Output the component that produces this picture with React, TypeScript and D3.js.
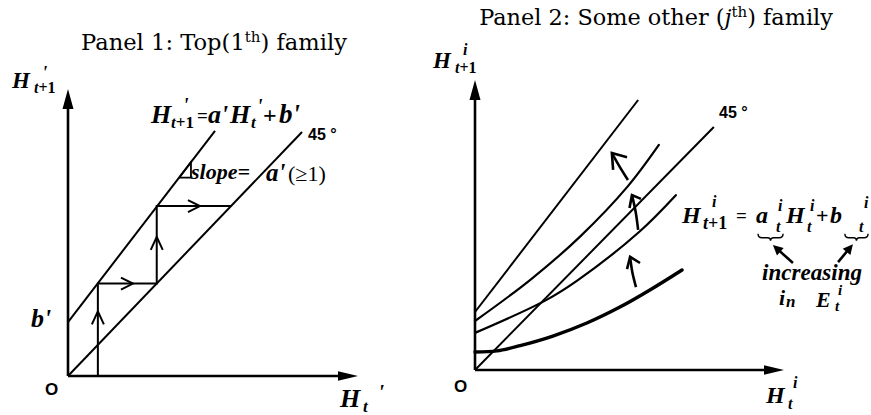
import React from "react";
import * as d3 from "d3";

const W = 871;
const H = 415;
const serif = "Liberation Serif, Times New Roman, serif";
const titleFont = "DejaVu Serif, serif";
const sans = "Liberation Sans, Arial, sans-serif";

// ---- panel 1 (top family), both axes in 0..100 units ----
const p1Upper = [[0, 18.8], [50.7, 85.4]];
const p1Diag = [[0, 0], [80.7, 85.0]];
const p1Steps = [[10.3, 0], [10.3, 32.2], [30.6, 32.2], [30.6, 59.2], [56.3, 59.2]];
const p1StepArrows = [
  { x: 10.3, y: 22.5, dir: "up" },
  { x: 22.4, y: 32.2, dir: "right" },
  { x: 30.6, y: 48.5, dir: "up" },
  { x: 45.5, y: 59.2, dir: "right" },
];
const p1SlopeTri = [[38.3, 69.1], [42.4, 69.1], [42.4, 74.5], [38.3, 69.1]];

// ---- panel 2 (some other family) ----
const p2Top = [[0, 20.0], [52.8, 93.1]];
const p2Diag = [[0, 0], [77.3, 83.8]];
const p2Curve2 = [[0, 16.9], [17.8, 31.0], [34.0, 46.0], [49.5, 63.4], [59.5, 77.6]];
const p2Curve3 = [[0, 12.8], [23.0, 24.1], [33.3, 31.0], [53.1, 47.6], [65.0, 60.3]];
const p2Curve4 = [[0, 6.2], [7.1, 6.6], [14.6, 8.4], [25.2, 11.7], [36.2, 16.2], [46.9, 21.7], [56.6, 27.6], [67.0, 34.5]];
const p2Curves = [
  { pts: p2Curve2, w: 2.2 },
  { pts: p2Curve3, w: 2.2 },
  { pts: p2Curve4, w: 3.4 },
];
// curved shift arrows: stem [end, mid, tip], head [armA, tip, armB]
const p2ShiftArrows = [
  { stem: [[49.5, 65.5], [46.6, 70.5], [44.3, 74.8]], head: [[49.2, 73.4], [44.3, 74.8], [44.7, 69.0]] },
  { stem: [[52.8, 48.3], [52.0, 54.5], [50.8, 60.3]], head: [[53.7, 59.0], [50.8, 60.3], [50.0, 55.9]] },
  { stem: [[52.1, 28.6], [50.9, 33.8], [50.2, 39.0]], head: [[53.4, 36.9], [50.2, 39.0], [49.2, 34.8]] },
];
// pointers from "increasing" to the braces
const p2Pointers = [
  { from: [102.9, 36.9], to: [96.4, 43.1] },
  { from: [117.5, 37.2], to: [122.3, 43.4] },
];
const p2Braces = [[91.6, 99.7], [119.7, 127.2]];
const p2BraceY = 47.0;

const x1 = d3.scaleLinear().domain([0, 100]).range([68, 358]);
const y1 = d3.scaleLinear().domain([0, 100]).range([376, 89]);
const x2 = d3.scaleLinear().domain([0, 100]).range([475, 784]);
const y2 = d3.scaleLinear().domain([0, 100]).range([370, 80]);

const mkLine = (xs, ys, curve = d3.curveLinear) =>
  d3.line<number[]>().x((d) => xs(d[0])).y((d) => ys(d[1])).curve(curve);

function head(tx, ty, fx, fy, L, hw) {
  const dx = tx - fx, dy = ty - fy;
  const n = Math.hypot(dx, dy);
  const ux = dx / n, uy = dy / n;
  const bx = tx - ux * L, by = ty - uy * L;
  return `M${tx},${ty}L${bx - uy * hw},${by + ux * hw}L${bx + uy * hw},${by - ux * hw}Z`;
}

const T = ({ x, y, s, children, bold = true, it = true, fam = serif, ...rest }: any) => (
  <text x={x} y={y} fill="#000" {...rest}
    style={{ fontFamily: fam, fontSize: s, fontWeight: bold ? 700 : 400, fontStyle: it ? "italic" : "normal" }}>
    {children}
  </text>
);

function Axes({ xs, ys, hy, hx }) {
  const ox = xs(0), oy = ys(0), ty = ys(100), tx = xs(100);
  return (
    <g>
      <line x1={ox} y1={oy} x2={ox} y2={ty + hy} stroke="#000" strokeWidth={2.6} />
      <line x1={ox} y1={oy} x2={tx - hx} y2={oy} stroke="#000" strokeWidth={2.6} />
      <path d={head(ox, ty, ox, oy, hy + 2, 5.5)} fill="#000" />
      <path d={head(tx, oy, ox, oy, hx + 2, 4.8)} fill="#000" />
    </g>
  );
}

function Panel1() {
  const l = mkLine(x1, y1);
  return (
    <g>
      <T x={214} y={50} s={22.6} bold={false} it={false} fam={titleFont} textAnchor="middle">
        Panel 1: Top(1<tspan style={{ fontSize: 15 }} dy={-8}>th</tspan><tspan dy={8}>) family</tspan>
      </T>
      <Axes xs={x1} ys={y1} hy={18} hx={18} />
      <path d={l(p1Upper)} stroke="#000" strokeWidth={2} fill="none" />
      <path d={l(p1Diag)} stroke="#000" strokeWidth={2} fill="none" />
      <path d={l(p1Steps)} stroke="#000" strokeWidth={2} fill="none" />
      <path d={l(p1SlopeTri)} stroke="#000" strokeWidth={1.8} fill="none" />
      {p1StepArrows.map((a, i) => {
        const px = x1(a.x), py = y1(a.y);
        const pts = a.dir === "up"
          ? [[px - 6, py + 13], [px, py], [px + 6, py + 13]]
          : [[px - 12, py - 6], [px, py], [px - 12, py + 6]];
        return <polyline key={i} points={pts.map((p) => p.join(",")).join(" ")} stroke="#000" strokeWidth={2} fill="none" />;
      })}

      {/* y label */}
      <T x={12} y={88} s={23}>H</T>
      <T x={34} y={93} s={16}>t<tspan style={{ fontStyle: "normal" }}>+1</tspan></T>
      <T x={42} y={79} s={19}>'</T>
      {/* x label */}
      <T x={340} y={407} s={26}>H</T>
      <T x={363} y={412} s={17}>t</T>
      <T x={378} y={399} s={22}>'</T>
      <T x={45} y={395} s={17} fam={sans} it={false}>O</T>
      <T x={31} y={327} s={26}>b'</T>
      <T x={308} y={140} s={16} fam={sans} it={false}>45 °</T>

      {/* equation */}
      <T x={151} y={123} s={26}>H</T>
      <T x={171} y={128} s={17}>t<tspan style={{ fontStyle: "normal" }}>+1</tspan></T>
      <T x={183} y={112} s={20}>'</T>
      <T x={197} y={122} s={19} it={false}>=</T>
      <T x={208} y={123} s={26}>a'</T>
      <T x={230} y={123} s={26}>H</T>
      <T x={251} y={128} s={17}>t</T>
      <T x={257} y={113} s={20}>'</T>
      <T x={263} y={123} s={24} it={false}>+</T>
      <T x={279} y={123} s={27}>b'</T>

      <T x={191} y={179} s={22}>slope=</T>
      <T x={266} y={181} s={25}>a'</T>
      <T x={288} y={181} s={22} it={false} bold={false}>(≥1)</T>
    </g>
  );
}

function Panel2() {
  const l = mkLine(x2, y2);
  const c = mkLine(x2, y2, d3.curveCatmullRom);
  const n = mkLine(x2, y2, d3.curveNatural);
  return (
    <g>
      <T x={656} y={25} s={22.4} bold={false} it={false} fam={titleFont} textAnchor="middle">
        Panel 2: Some other (<tspan style={{ fontStyle: "italic" }}>j</tspan><tspan style={{ fontSize: 15 }} dy={-8}>th</tspan><tspan dy={8}>) family</tspan>
      </T>
      <Axes xs={x2} ys={y2} hy={18} hx={18} />
      <path d={l(p2Top)} stroke="#000" strokeWidth={2} fill="none" />
      <path d={l(p2Diag)} stroke="#000" strokeWidth={2} fill="none" />
      {p2Curves.map((cv, i) => (
        <path key={i} d={c(cv.pts)} stroke="#000" strokeWidth={cv.w} fill="none" strokeLinecap="round" />
      ))}
      {p2ShiftArrows.map((a, i) => (
        <g key={i}>
          <path d={n(a.stem)} stroke="#000" strokeWidth={2.6} fill="none" />
          <path d={l(a.head)} stroke="#000" strokeWidth={2.6} fill="none" />
        </g>
      ))}
      {p2Pointers.map((p, i) => {
        const fx = x2(p.from[0]), fy = y2(p.from[1]), tx = x2(p.to[0]), ty = y2(p.to[1]);
        return (
          <g key={i}>
            <line x1={fx} y1={fy} x2={tx + (fx - tx) * 0.3} y2={ty + (fy - ty) * 0.3} stroke="#000" strokeWidth={2.6} />
            <path d={head(tx, ty, fx, fy, 10, 5)} fill="#000" />
          </g>
        );
      })}
      {p2Braces.map((b, i) => {
        const a = x2(b[0]), e = x2(b[1]), y = y2(p2BraceY), m = (a + e) / 2;
        return (
          <path key={i} fill="none" stroke="#000" strokeWidth={1.4}
            d={`M${a},${y}Q${a},${y + 4} ${a + 4},${y + 4}L${m - 3},${y + 4}Q${m},${y + 4} ${m},${y + 7}Q${m},${y + 4} ${m + 3},${y + 4}L${e - 4},${y + 4}Q${e},${y + 4} ${e},${y}`} />
        );
      })}

      {/* y label */}
      <T x={433} y={68} s={23}>H</T>
      <T x={463} y={55} s={16}>i</T>
      <T x={455} y={73} s={16}>t<tspan style={{ fontStyle: "normal" }}>+1</tspan></T>
      {/* x label */}
      <T x={766} y={403} s={24}>H</T>
      <T x={793} y={388} s={16}>i</T>
      <T x={788} y={409} s={16}>t</T>
      <T x={454} y={392} s={17} fam={sans} it={false}>O</T>
      <T x={719} y={118} s={16} fam={sans} it={false}>45 °</T>

      {/* equation */}
      <T x={682} y={223} s={24}>H</T>
      <T x={712} y={207} s={16}>i</T>
      <T x={703} y={229} s={18}>t<tspan style={{ fontStyle: "normal" }}>+1</tspan></T>
      <T x={736} y={222} s={19} it={false}>=</T>
      <T x={756} y={223} s={24}>a</T>
      <T x={778} y={211} s={16}>i</T>
      <T x={776} y={232} s={16}>t</T>
      <T x={786} y={223} s={24}>H</T>
      <T x={810} y={211} s={16}>i</T>
      <T x={807} y={232} s={16}>t</T>
      <T x={816} y={223} s={22} it={false}>+</T>
      <T x={830} y={223} s={24}>b</T>
      <T x={864} y={208} s={16}>i</T>
      <T x={859} y={232} s={16}>t</T>

      <T x={762} y={280} s={23} textLength={100} lengthAdjust="spacingAndGlyphs">increasing</T>
      <T x={779} y={305} s={22}>i</T>
      <T x={786} y={307} s={17}>n</T>
      <T x={816} y={307} s={22}>E</T>
      <T x={838} y={295} s={15}>i</T>
      <T x={835} y={311} s={15}>t</T>
    </g>
  );
}

export default function App() {
  return (
    <svg width={W} height={H} viewBox={`0 0 ${W} ${H}`}
      style={{ position: "absolute", left: 0, top: 0, background: "#fff", display: "block" }}>
      <rect width={W} height={H} fill="#fff" />
      <Panel1 />
      <Panel2 />
    </svg>
  );
}
